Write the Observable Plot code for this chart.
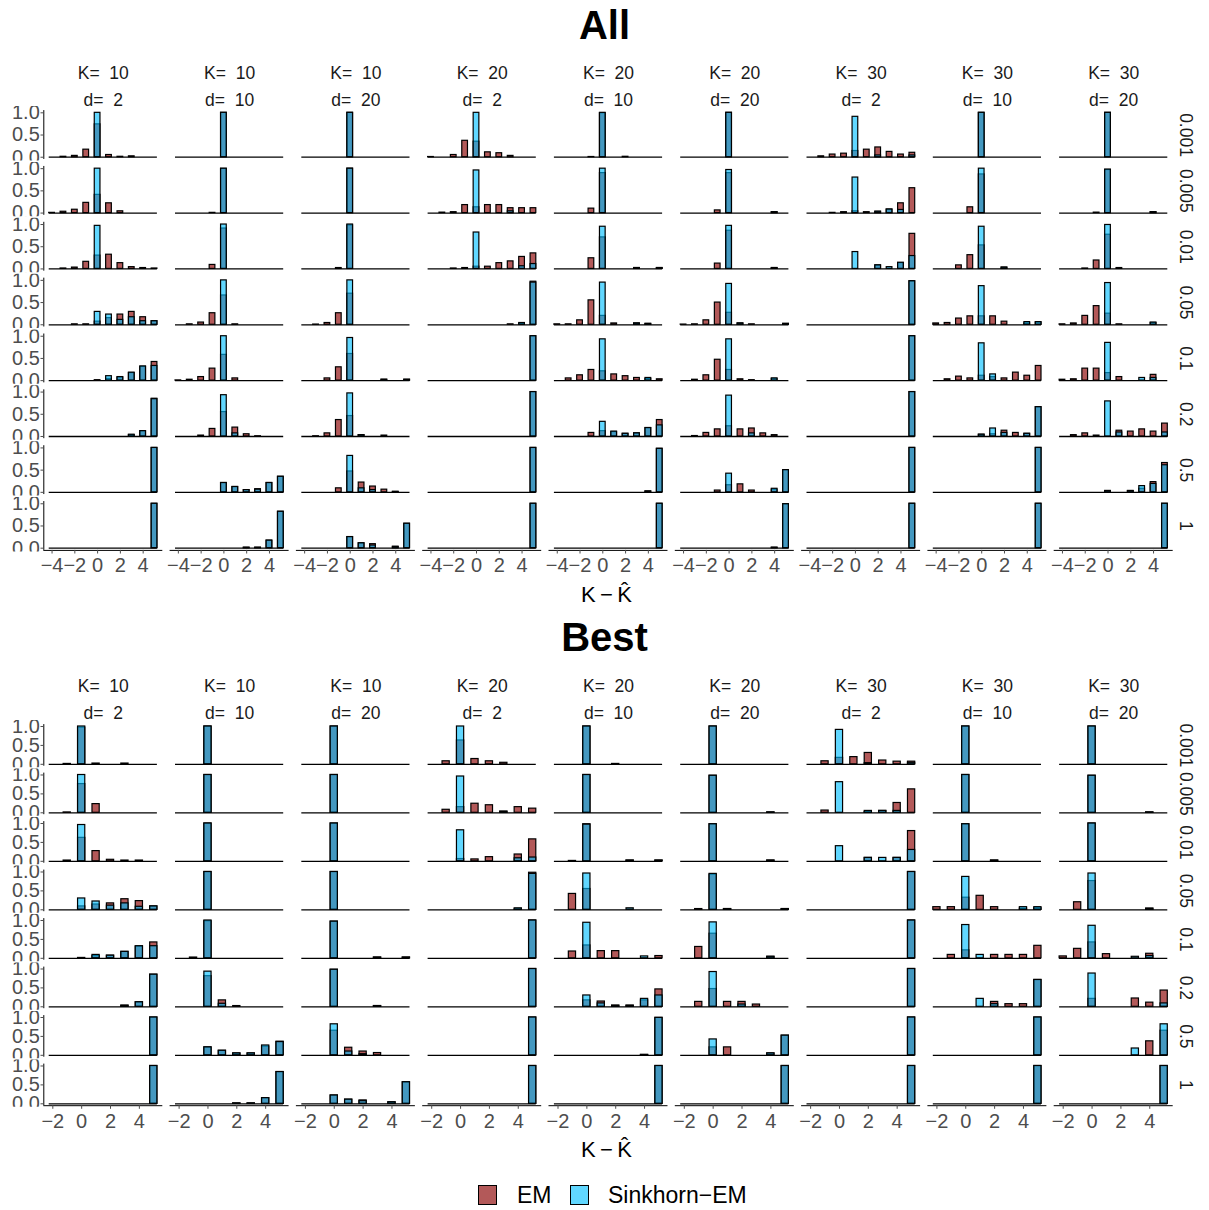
<!DOCTYPE html>
<html><head><meta charset="utf-8">
<script src="https://cdn.jsdelivr.net/npm/d3@7"></script>
<script src="https://cdn.jsdelivr.net/npm/@observablehq/plot@0.6"></script>
<style>
html,body{margin:0;padding:0;background:#fff;}
#root{position:relative;width:1209px;height:1210px;overflow:hidden;font-family:"Liberation Sans",Arial,Helvetica,sans-serif;color:#000;}
.title{position:absolute;left:0;width:1209px;text-align:center;font-weight:bold;font-size:40px;line-height:40px;}
.xlab{position:absolute;left:2px;width:1209px;text-align:center;font-size:22px;line-height:22px;}
.chart{position:absolute;left:0;}
.key{position:absolute;width:19px;height:20px;border:1px solid #000;box-sizing:border-box;}
.ltxt{position:absolute;font-size:23px;line-height:22px;white-space:nowrap;}
</style></head>
<body><div id="root">
<div class="title" style="top:5px">All</div>
<div id="gAll" class="chart" style="top:48px"></div>
<div class="xlab" style="top:584px">K&#8201;&#8722;&#8201;K&#770;</div>
<div class="title" style="top:617px">Best</div>
<div id="gBest" class="chart" style="top:660px"></div>
<div class="xlab" style="top:1139px">K&#8201;&#8722;&#8201;K&#770;</div>
<div class="key" style="left:478px;top:1185px;background:rgba(139,0,0,0.65)"></div>
<div class="ltxt" style="left:517px;top:1184px">EM</div>
<div class="key" style="left:570px;top:1185px;background:rgba(0,191,255,0.62)"></div>
<div class="ltxt" style="left:608px;top:1184px">Sinkhorn&#8722;EM</div>
</div>
<script>
// ---------- categories ----------
const columns = [
  {K:10,d:2},{K:10,d:10},{K:10,d:20},
  {K:20,d:2},{K:20,d:10},{K:20,d:20},
  {K:30,d:2},{K:30,d:10},{K:30,d:20}
];
const lambdas = ["0.001","0.005","0.01","0.05","0.1","0.2","0.5","1"];
const binsAll  = [-4,-3,-2,-1,0,1,2,3,4,5];
const binsBest = [-2,-1,0,1,2,3,4,5];
const ticksAll  = [-4,-2,0,2,4];
const ticksBest = [-2,0,2,4];
const yTicks = [0, 0.5, 1];

// ---------- "All" panel: EM proportions (column -> lambda row -> bin) ----------
const allEM = [
 [[0,.01,.03,.17,.74,.05,.01,.02,0,0],[.005,.03,.075,.23,.41,.22,.04,0,0,0],[0,.01,.03,.16,.30,.32,.13,.04,.02,.01],[0,0,.01,.01,.07,.15,.23,.29,.17,.08],[0,0,0,0,.01,.04,.07,.17,.31,.42],[0,0,0,0,0,0,0,.03,.12,.85],[0,0,0,0,0,0,0,0,0,1],[0,0,0,0,0,0,0,0,0,1]],
 [[0,0,0,0,1,0,0,0,0,0],[0,0,0,.005,.995,0,0,0,0,0],[0,0,0,.09,.91,0,0,0,0,0],[0,.01,.05,.26,.66,.01,0,0,0,0],[.005,.02,.08,.27,.58,.05,0,0,0,0],[0,0,.02,.17,.55,.20,.05,.005,0,0],[0,0,0,0,.21,.12,.05,.07,.21,.35],[0,0,0,0,0,0,.01,.01,.17,.82]],
 [[0,0,0,0,1,0,0,0,0,0],[0,0,0,0,1,0,0,0,0,0],[0,0,0,.02,.98,0,0,0,0,0],[0,.005,.04,.26,.70,0,0,0,0,0],[0,0,.05,.30,.60,0,0,.02,0,.02],[0,.005,.07,.37,.46,.03,0,.02,0,0],[0,0,0,.09,.47,.22,.13,.06,.01,0],[0,0,0,0,.25,.11,.09,0,.03,.55]],
 [[.005,0,.05,.37,.35,.11,.09,.03,0,0],[0,.01,.02,.18,.13,.18,.18,.11,.11,.11],[0,0,.01,.02,.05,.05,.13,.17,.27,.35],[0,0,0,0,0,0,0,.01,.02,.97],[0,0,0,0,0,0,0,0,0,1],[0,0,0,0,0,0,0,0,0,1],[0,0,0,0,0,0,0,0,0,1],[0,0,0,0,0,0,0,0,0,1]],
 [[0,0,0,.005,.99,0,.01,0,0,0],[0,0,0,.10,.90,0,0,0,0,0],[0,0,0,.24,.71,0,0,.02,0,.02],[.01,.01,.10,.55,.20,.03,0,.03,.02,0],[0,.05,.12,.24,.21,.14,.10,.06,.04,.03],[0,0,0,.08,.12,.10,.06,.07,.19,.37],[0,0,0,0,0,0,0,0,.02,.98],[0,0,0,0,0,0,0,0,0,1]],
 [[0,0,0,0,1,0,0,0,0,0],[0,0,0,.06,.90,0,0,0,.02,0],[0,0,0,.12,.86,0,0,0,.02,0],[.005,.01,.10,.50,.27,.03,.01,0,0,.02],[0,.02,.12,.47,.24,.03,.01,0,.04,0],[0,.01,.08,.16,.23,.16,.18,.07,.03,0],[0,0,0,.04,.16,.18,.04,0,.06,.50],[0,0,0,0,0,0,0,0,.01,.99]],
 [[0,.02,.06,.08,.14,.17,.22,.12,.06,.10],[0,0,.005,.02,.04,.02,.03,.08,.22,.56],[0,0,0,0,0,0,.08,0,.13,.79],[0,0,0,0,0,0,0,0,0,.98],[0,0,0,0,0,0,0,0,0,1],[0,0,0,0,0,0,0,0,0,1],[0,0,0,0,0,0,0,0,0,1],[0,0,0,0,0,0,0,0,0,1]],
 [[0,0,0,0,1,0,0,0,0,0],[0,0,0,.13,.87,0,0,0,0,0],[0,0,.08,.31,.53,0,.03,0,0,0],[.03,.04,.14,.19,.19,.19,.07,0,.03,.05],[0,.03,.09,.05,.11,.08,.05,.18,.11,.33],[0,0,0,0,.04,.05,.13,.08,.06,.66],[0,0,0,0,0,0,0,0,0,1],[0,0,0,0,0,0,0,0,0,1]],
 [[0,0,0,0,1,0,0,0,0,0],[0,0,0,.01,.97,0,0,0,.02,0],[0,0,.01,.19,.77,.02,0,0,0,0],[.01,.03,.20,.42,.25,.01,0,0,.04,0],[.02,.03,.27,.27,.17,.08,0,0,.13,0],[0,.03,.07,.02,0,.13,.11,.16,.11,.29],[0,0,0,0,.03,0,.03,.08,.23,.66],[0,0,0,0,0,0,0,0,0,1]]
];
// ---------- "All" panel: Sinkhorn-EM proportions ----------
const allSK = [
 [[0,0,0,0,1,0,0,0,0,0],[0,0,0,0,1,0,0,0,0,0],[0,0,0,0,.97,0,0,0,0,0],[0,0,0,0,.29,.23,.11,.17,.08,.08],[0,0,0,0,0,.10,.08,.18,.32,.33],[0,0,0,0,0,0,0,.04,.12,.84],[0,0,0,0,0,0,0,0,0,1],[0,0,0,0,0,0,0,0,0,1]],
 [[0,0,0,0,1,0,0,0,0,0],[0,0,0,0,1,0,0,0,0,0],[0,0,0,0,1,0,0,0,0,0],[0,0,0,0,1,0,0,0,0,0],[0,0,0,0,1,0,0,0,0,0],[0,0,0,0,.93,.07,0,0,0,0],[0,0,0,0,.21,.12,.05,.06,.21,.35],[0,0,0,0,0,0,.01,.01,.17,.82]],
 [[0,0,0,0,1,0,0,0,0,0],[0,0,0,0,1,0,0,0,0,0],[0,0,0,0,1,0,0,0,0,0],[0,0,0,0,1,0,0,0,0,0],[0,0,0,0,.96,0,0,.02,0,.02],[0,0,0,0,.97,.03,0,0,0,0],[0,0,0,0,.82,.09,.05,0,.01,0],[0,0,0,0,.25,.11,.06,0,.03,.55]],
 [[0,0,0,0,1,0,0,0,0,0],[0,0,0,0,.96,0,0,.04,0,0],[0,0,0,0,.82,0,0,0,.06,.11],[0,0,0,0,0,0,0,0,.04,.95],[0,0,0,0,0,0,0,0,0,1],[0,0,0,0,0,0,0,0,0,1],[0,0,0,0,0,0,0,0,0,1],[0,0,0,0,0,0,0,0,0,1]],
 [[0,0,0,0,1,0,0,0,0,0],[0,0,0,0,1,0,0,0,0,0],[0,0,0,0,.95,0,0,.02,0,.02],[0,0,0,0,.95,0,0,.03,.02,0],[0,0,0,0,.93,0,0,0,.06,0],[0,0,0,0,.33,.11,.06,.07,.19,.25],[0,0,0,0,0,0,0,0,.02,.98],[0,0,0,0,0,0,0,0,0,1]],
 [[0,0,0,0,1,0,0,0,0,0],[0,0,0,0,.97,0,0,0,.02,0],[0,0,0,0,.97,0,0,0,.02,0],[0,0,0,0,.92,.03,0,0,0,.02],[0,0,0,0,.93,0,0,0,.05,0],[0,0,0,0,.92,0,.07,0,0,0],[0,0,0,0,.42,0,0,0,.08,.50],[0,0,0,0,0,0,0,0,.01,.99]],
 [[0,0,0,0,.91,0,.04,0,0,.04],[0,0,0,0,.80,0,.03,.08,.07,0],[0,0,0,0,.38,0,.08,.04,.14,.29],[0,0,0,0,0,0,0,0,0,.98],[0,0,0,0,0,0,0,0,0,1],[0,0,0,0,0,0,0,0,0,1],[0,0,0,0,0,0,0,0,0,1],[0,0,0,0,0,0,0,0,0,1]],
 [[0,0,0,0,1,0,0,0,0,0],[0,0,0,0,1,0,0,0,0,0],[0,0,0,0,.95,0,.03,0,0,0],[0,0,0,0,.87,0,0,0,.06,.06],[0,0,0,0,.84,.14,0,0,0,0],[0,0,0,0,.04,.18,.08,0,.06,.66],[0,0,0,0,0,0,0,0,0,1],[0,0,0,0,0,0,0,0,0,1]],
 [[0,0,0,0,1,0,0,0,0,0],[0,0,0,0,.98,0,0,0,.02,0],[0,0,0,0,.99,0,0,0,0,0],[0,0,0,0,.94,0,0,0,.05,0],[0,0,0,0,.85,0,0,.06,.06,0],[0,0,0,0,.79,.09,0,0,0,.09],[0,0,0,0,.03,0,.03,.14,.19,.61],[0,0,0,0,0,0,0,0,0,1]]
];
// ---------- "Best" panel: EM proportions ----------
const bestEM = [
 [[0,.01,.97,.02,0,.02,0,0],[0,.01,.76,.23,0,0,0,0],[0,.02,.62,.27,.04,.02,.02,0],[0,0,.09,.14,.17,.28,.23,.09],[0,0,.01,.06,.07,.17,.31,.42],[0,0,0,0,0,.03,.12,.85],[0,0,0,0,0,0,0,1],[0,0,0,0,0,0,0,1]],
 [[0,0,1,0,0,0,0,0],[0,0,1,0,0,0,0,0],[0,0,1,0,0,0,0,0],[0,0,1,0,0,0,0,0],[0,.02,.98,0,0,0,0,0],[0,0,.81,.17,.02,0,0,0],[0,0,.21,.12,.05,.05,.23,.36],[0,0,0,0,.01,.01,.15,.84]],
 [[0,0,1,0,0,0,0,0],[0,0,1,0,0,0,0,0],[0,0,1,0,0,0,0,0],[0,0,1,0,0,0,0,0],[0,0,.97,0,0,.02,0,.02],[0,0,.98,0,0,.02,0,0],[0,0,.65,.20,.10,.06,0,0],[0,0,.22,.11,.09,0,.04,.57]],
 [[0,.08,.63,.14,.08,.04,0,0],[0,.08,.15,.24,.20,.03,.15,.11],[0,0,.06,.05,.11,0,.18,.58],[0,0,0,0,0,0,.01,.98],[0,0,0,0,0,0,0,1],[0,0,0,0,0,0,0,1],[0,0,0,0,0,0,0,1],[0,0,0,0,0,0,0,1]],
 [[0,0,1,0,.01,0,0,0],[0,0,1,0,0,0,0,0],[0,.01,.98,0,0,.02,0,.02],[0,.42,.55,0,0,0,0,0],[0,.18,.34,.19,.19,0,0,.06],[0,0,.17,.14,.03,.03,.17,.46],[0,0,0,0,0,0,.01,.99],[0,0,0,0,0,0,0,1]],
 [[0,0,1,0,0,0,0,0],[0,0,.98,0,0,0,.01,0],[0,0,.98,0,0,0,.02,0],[0,.02,.93,.02,0,0,0,.02],[0,.30,.65,0,0,0,.04,0],[0,.13,.47,.13,.13,.06,0,0],[0,0,.21,.21,0,0,.05,.52],[0,0,0,0,0,0,0,1]],
 [[0,.08,.17,.19,.30,.10,.07,.07],[0,.06,0,0,.02,.05,.26,.62],[0,0,0,0,.09,0,.09,.80],[0,0,0,0,0,0,0,1],[0,0,0,0,0,0,0,1],[0,0,0,0,0,0,0,1],[0,0,0,0,0,0,0,1],[0,0,0,0,0,0,0,1]],
 [[0,0,1,0,0,0,0,0],[0,0,1,0,0,0,0,0],[0,0,.98,0,.02,0,0,0],[.07,.07,.32,.37,.07,0,.03,.04],[0,.09,.21,0,.09,.09,.09,.33],[0,0,0,0,.13,.07,.07,.71],[0,0,0,0,0,0,0,1],[0,0,0,0,0,0,0,1]],
 [[0,0,1,0,0,0,0,0],[0,0,.98,0,0,0,.01,0],[0,0,1,0,0,0,0,0],[0,.20,.76,0,0,0,.03,0],[.05,.25,.42,.11,0,0,.12,0],[0,0,.21,0,0,.22,.11,.43],[0,0,0,0,0,0,.37,.65],[0,0,0,0,0,0,0,1]]
];
// ---------- "Best" panel: Sinkhorn-EM proportions ----------
const bestSK = [
 [[0,0,1,0,0,0,0,0],[0,0,1,0,0,0,0,0],[0,0,.96,0,0,0,0,0],[0,0,.30,.22,.11,.17,.08,.09],[0,0,0,.09,.07,.17,.32,.32],[0,0,0,0,0,.03,.12,.85],[0,0,0,0,0,0,0,1],[0,0,0,0,0,0,0,1]],
 [[0,0,1,0,0,0,0,0],[0,0,1,0,0,0,0,0],[0,0,1,0,0,0,0,0],[0,0,1,0,0,0,0,0],[0,0,1,0,0,0,0,0],[0,0,.93,.08,0,0,0,0],[0,0,.21,.12,.05,.05,.26,.35],[0,0,0,0,.01,.01,.15,.84]],
 [[0,0,1,0,0,0,0,0],[0,0,1,0,0,0,0,0],[0,0,1,0,0,0,0,0],[0,0,1,0,0,0,0,0],[0,0,.97,0,0,.02,0,.02],[0,0,.98,0,0,.02,0,0],[0,0,.82,.10,.03,0,0,0],[0,0,.22,.11,.07,0,.04,.57]],
 [[0,0,1,0,0,0,0,0],[0,0,.96,0,0,.03,0,0],[0,0,.82,0,0,0,.08,.10],[0,0,0,0,0,0,.04,.95],[0,0,0,0,0,0,0,1],[0,0,0,0,0,0,0,1],[0,0,0,0,0,0,0,1],[0,0,0,0,0,0,0,1]],
 [[0,0,1,0,0,0,0,0],[0,0,1,0,0,0,0,0],[0,0,.97,0,0,.02,0,.02],[0,0,.96,0,0,.04,0,0],[0,0,.94,0,0,0,.05,0],[0,0,.30,.09,.03,.03,.21,.30],[0,0,0,0,0,0,.01,.99],[0,0,0,0,0,0,0,1]],
 [[0,0,1,0,0,0,0,0],[0,0,.98,0,0,0,.01,0],[0,0,.98,0,0,0,.02,0],[0,0,.95,.02,0,0,0,.02],[0,0,.95,0,0,0,.04,0],[0,0,.92,0,.06,0,0,0],[0,0,.42,0,0,0,.05,.52],[0,0,0,0,0,0,0,1]],
 [[0,0,.91,0,.03,0,0,.04],[0,0,.81,0,.05,.05,.05,0],[0,0,.40,0,.09,.09,.09,.30],[0,0,0,0,0,0,0,1],[0,0,0,0,0,0,0,1],[0,0,0,0,0,0,0,1],[0,0,0,0,0,0,0,1],[0,0,0,0,0,0,0,1]],
 [[0,0,1,0,0,0,0,0],[0,0,1,0,0,0,0,0],[0,0,.98,0,.02,0,0,0],[0,0,.87,0,0,0,.07,.07],[0,0,.88,.09,0,0,0,0],[0,0,0,.21,.07,0,0,.71],[0,0,0,0,0,0,0,1],[0,0,0,0,0,0,0,1]],
 [[0,0,1,0,0,0,0,0],[0,0,.98,0,0,0,.01,0],[0,0,1,0,0,0,0,0],[0,0,.96,0,0,0,.03,0],[0,0,.86,0,0,.04,.06,0],[0,0,.88,0,0,0,0,.09],[0,0,0,0,0,.18,0,.82],[0,0,0,0,0,0,0,1]]
];

// ---------- build ----------
const colKeys = columns.map(c => `K${c.K}d${c.d}`);
const colText = new Map(columns.map((c, i) => [colKeys[i], `K= \u00a0${c.K}\nd= \u00a0${c.d}`]));
const FONT = "'Liberation Sans', Arial, Helvetica, sans-serif";
const W = 1209, ML = 43.3, MR = 36.3;

function tidy(arr, bins) {
  const out = [];
  arr.forEach((col, ci) => col.forEach((row, ri) => row.forEach((v, bi) => {
    if (v > 0) out.push({col: colKeys[ci], lam: lambdas[ri], x: bins[bi], v});
  })));
  return out;
}

function addClip(svg, id, x, y, w, h, selector) {
  const ns = "http://www.w3.org/2000/svg";
  let defs = svg.querySelector("defs.clips");
  if (!defs) { defs = document.createElementNS(ns, "defs"); defs.setAttribute("class", "clips"); svg.insertBefore(defs, svg.firstChild); }
  const cp = document.createElementNS(ns, "clipPath"); cp.setAttribute("id", id);
  const r = document.createElementNS(ns, "rect");
  r.setAttribute("x", x); r.setAttribute("y", y); r.setAttribute("width", w); r.setAttribute("height", h);
  cp.appendChild(r); defs.appendChild(cp);
  svg.querySelectorAll(selector).forEach(g => g.setAttribute("clip-path", `url(#${id})`));
}

function grid(cfg) {
  const em = tidy(cfg.em, cfg.bins), sk = tidy(cfg.sk, cfg.bins);
  const barOpts = {x1: d => d.x - 0.25, x2: d => d.x + 0.25, y1: 0, y2: "v", fx: "col", fy: "lam", stroke: "#000", strokeWidth: 1.2};
  const plot = Plot.plot({
    width: W, height: cfg.H,
    marginLeft: ML, marginRight: MR, marginTop: cfg.MT, marginBottom: cfg.H - cfg.MT - cfg.FH,
    style: {fontFamily: FONT, overflow: "visible", background: "transparent"},
    x: {domain: cfg.xDomain, axis: null},
    y: {domain: [-0.05, 1.05], axis: null},
    fx: {domain: colKeys, paddingInner: 0.0578, paddingOuter: 0, round: false, axis: null, label: null},
    fy: {domain: lambdas, paddingInner: cfg.pIn, paddingOuter: 0, round: false, axis: null, label: null},
    marks: [
      Plot.ruleY([0], {x1: cfg.base[0], x2: cfg.base[1], stroke: "#000", strokeWidth: 1.3}),
      Plot.rect(em, {...barOpts, fill: "#8B0000", fillOpacity: 0.65}),
      Plot.rect(sk, {...barOpts, fill: "#00BFFF", fillOpacity: 0.62}),
      Plot.ruleX([cfg.xDomain[0]], {facetAnchor: "left", stroke: "#000", strokeWidth: 1}),
      Plot.ruleY([-0.05], {facetAnchor: "bottom", stroke: "#000", strokeWidth: 1}),
      Plot.axisY({ticks: yTicks, tickFormat: d => d.toFixed(1), anchor: "left", facetAnchor: "left",
        fontSize: 20, color: "#4d4d4d", tickSize: 2.8, tickPadding: 1.2, label: null}),
      Plot.axisX({ticks: cfg.xTicks, anchor: "bottom", facetAnchor: "bottom",
        fontSize: 20, color: "#4d4d4d", tickSize: 3.6, tickPadding: cfg.xPad, label: null}),
      Plot.text(colKeys, {fx: d => d, text: d => colText.get(d), frameAnchor: "top", lineAnchor: "middle",
        textAnchor: "middle", dy: cfg.stripDy, lineHeight: 1.55, fontSize: 17.5, fill: "#1a1a1a", facetAnchor: "top"}),
      Plot.text(lambdas, {fy: d => d, text: d => d, frameAnchor: "right", textAnchor: "middle", lineAnchor: "middle",
        dx: 12.5, rotate: 90, fontSize: 17.5, fill: "#1a1a1a", facetAnchor: "right", ariaLabel: "fy-strip"})
    ]
  });
  // clip y tick labels and row strips to their own panel row (as ggplot does)
  const bw = plot.scale("fy").bandwidth;
  addClip(plot, "cy" + cfg.id, -60, cfg.MT - 4.5, ML + 60, bw + 5.5, 'g[aria-label="y-axis tick label"] > g');
  addClip(plot, "cs" + cfg.id, W - MR, cfg.MT, MR + 60, bw, 'g[aria-label="fy-strip"] > g');
  return plot;
}

document.getElementById("gAll").appendChild(grid({
  id: "A", em: allEM, sk: allSK, bins: binsAll, xTicks: ticksAll,
  xDomain: [-4.725, 5.725], base: [-4.25, 5.25],
  H: 542, MT: 62.1, FH: 439.8, pIn: 0.1255, stripDy: -27.1, xPad: 3.3
}));
document.getElementById("gBest").appendChild(grid({
  id: "B", em: bestEM, sk: bestSK, bins: binsBest, xTicks: ticksBest,
  xDomain: [-2.625, 5.625], base: [-2.25, 5.25],
  H: 486, MT: 64.1, FH: 381.1, pIn: 0.1423, stripDy: -28.1, xPad: 4.2
}));
</script>
</body></html>
